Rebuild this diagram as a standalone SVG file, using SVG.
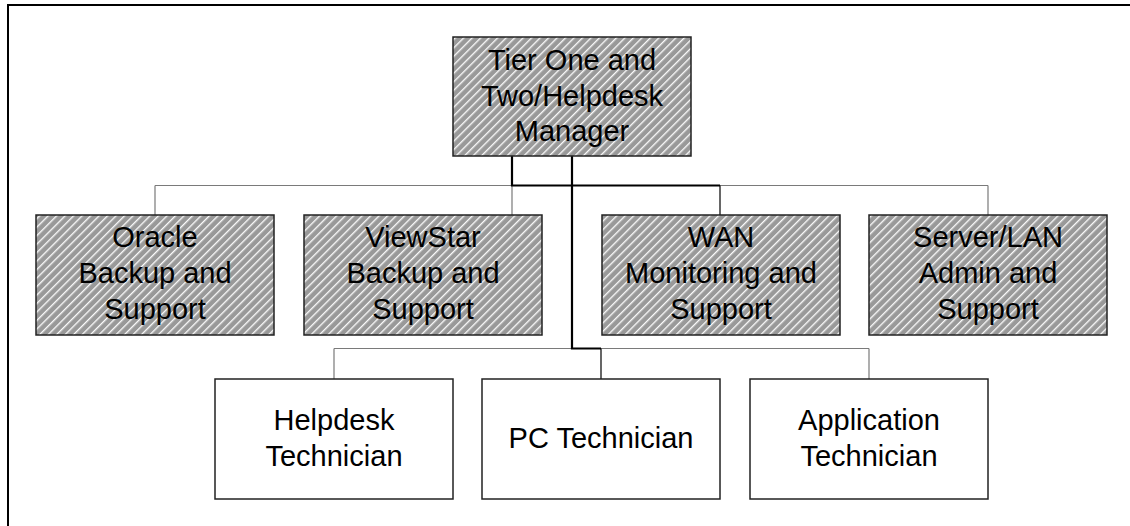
<svg xmlns="http://www.w3.org/2000/svg" width="1130" height="526" viewBox="0 0 1130 526">
<style>
.box{stroke:#222;stroke-width:1.5}
.hatched{fill:url(#hatch)}
.plain{fill:#fff}
.t{font-family:"Liberation Sans",Arial,sans-serif;font-size:29px;fill:#000;text-anchor:middle}
.bus{fill:none;stroke:#7a7a7a;stroke-width:1.2}
.hi{fill:none;stroke:#000;stroke-width:2.2}
.hithin{fill:none;stroke:#000;stroke-width:1.2}
</style>
<defs>
<pattern id="hatch" patternUnits="userSpaceOnUse" width="6" height="6" patternTransform="rotate(45)">
<rect width="6" height="6" fill="#999999"/>
<line x1="0.7" y1="0" x2="0.7" y2="6" stroke="#ffffff" stroke-width="1.3"/>
</pattern>
</defs>
<rect width="1130" height="526" fill="#fff"/>
<path d="M8,526 V5 H1130" fill="none" stroke="#000" stroke-width="2"/>
<g id="connectors">
<path class="bus" d="M155,185.5 H988 M155,185.5 V215 M512,185.5 V215 M988,185.5 V215"/>
<path class="bus" d="M334,348.5 H869 M334,348.5 V379 M869,348.5 V379"/>
<path class="hi" d="M512,156 V185.5 H720"/>
<path class="hithin" d="M720,185.5 V215"/>
<path class="hi" d="M572,156 V348.5 H601"/>
<path class="hithin" d="M601,348.5 V379"/>
</g>
<g id="manager">
<rect class="box hatched" x="453" y="37" width="238" height="119"/>
<text class="t" x="572" y="70">Tier One and</text>
<text class="t" x="572" y="105.5">Two/Helpdesk</text>
<text class="t" x="572" y="141">Manager</text>
</g>
<g id="oracle">
<rect class="box hatched" x="36" y="215" width="238" height="120"/>
<text class="t" x="155" y="247">Oracle</text>
<text class="t" x="155" y="283">Backup and</text>
<text class="t" x="155" y="319">Support</text>
</g>
<g id="viewstar">
<rect class="box hatched" x="304" y="215" width="238" height="120"/>
<text class="t" x="423" y="247">ViewStar</text>
<text class="t" x="423" y="283">Backup and</text>
<text class="t" x="423" y="319">Support</text>
</g>
<g id="wan">
<rect class="box hatched" x="602" y="215" width="238" height="120"/>
<text class="t" x="721" y="247">WAN</text>
<text class="t" x="721" y="283">Monitoring and</text>
<text class="t" x="721" y="319">Support</text>
</g>
<g id="serverlan">
<rect class="box hatched" x="869" y="215" width="238" height="120"/>
<text class="t" x="988" y="247">Server/LAN</text>
<text class="t" x="988" y="283">Admin and</text>
<text class="t" x="988" y="319">Support</text>
</g>
<g id="helpdesk">
<rect class="box plain" x="215" y="379" width="238" height="120"/>
<text class="t" x="334" y="430">Helpdesk</text>
<text class="t" x="334" y="466">Technician</text>
</g>
<g id="pc">
<rect class="box plain" x="482" y="379" width="238" height="120"/>
<text class="t" x="601" y="448">PC Technician</text>
</g>
<g id="application">
<rect class="box plain" x="750" y="379" width="238" height="120"/>
<text class="t" x="869" y="430">Application</text>
<text class="t" x="869" y="466">Technician</text>
</g>
</svg>
